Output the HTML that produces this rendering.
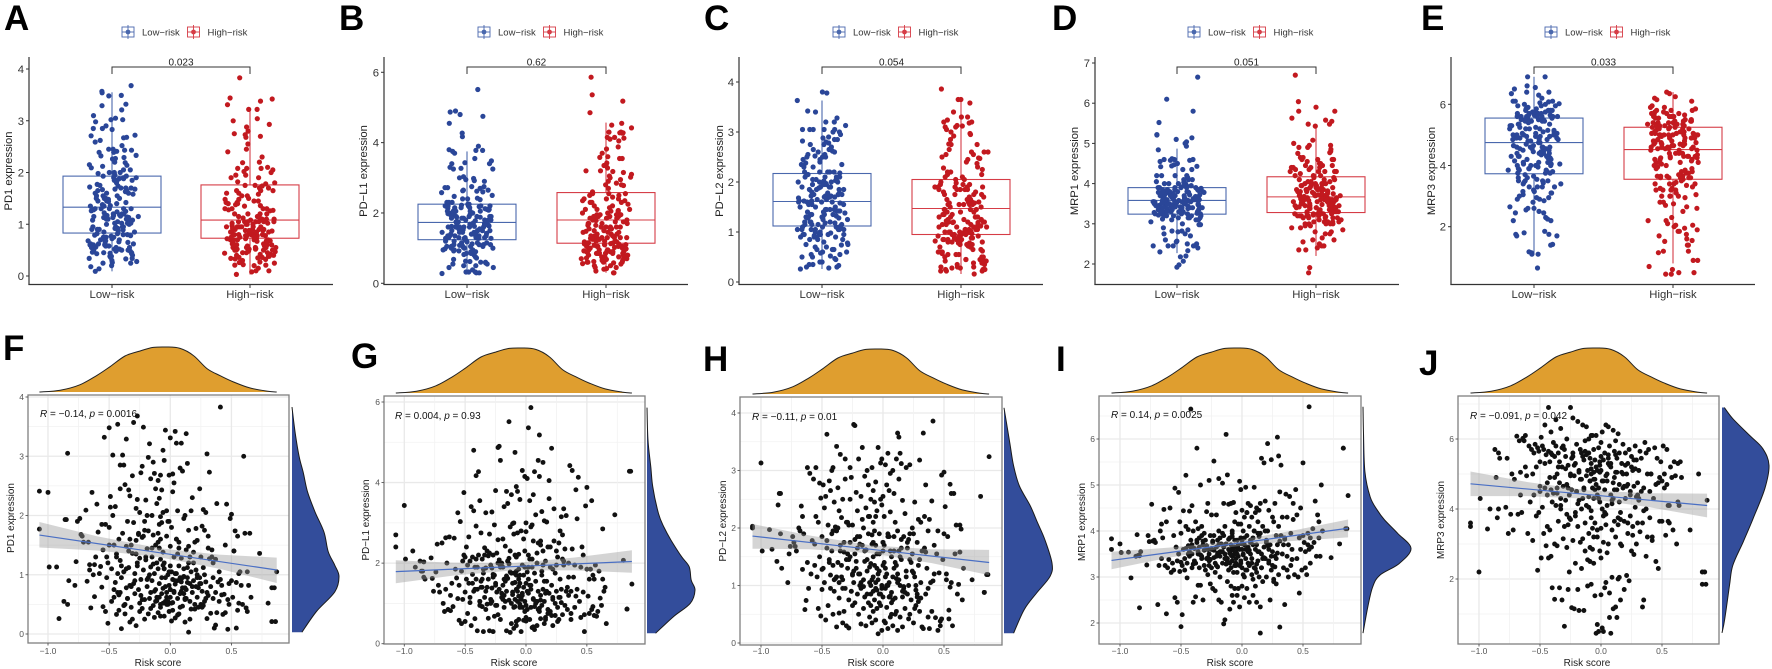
<!DOCTYPE html>
<html lang="en">
<head>
<meta charset="utf-8">
<title>Risk group expression and correlation panels</title>
<style>
html,body{margin:0;padding:0;background:#fff;}
svg{display:block;font-family:"Liberation Sans",sans-serif;}
</style>
</head>
<body>
<svg id="chart" xmlns="http://www.w3.org/2000/svg" width="1772" height="669" viewBox="0 0 1772 669"></svg>
<script>
// Risk score of each sample (shared by every panel)
const riskScore=[
-1.07,-1.07,-1.0,-.99,-.93,-.91,-.87,-.86,-.85,-.84,-.84,-.83,
-.78,-.77,-.76,-.74,-.73,-.72,-.71,-.69,-.68,-.67,-.66,-.66,
-.65,-.64,-.63,-.62,-.62,-.61,-.60,-.59,-.58,-.57,-.56,-.56,
-.55,-.55,-.54,-.53,-.53,-.52,-.52,-.51,-.51,-.50,-.50,-.49,
-.49,-.48,-.48,-.47,-.47,-.46,-.46,-.45,-.45,-.44,-.44,-.43,
-.43,-.43,-.42,-.42,-.41,-.41,-.41,-.40,-.40,-.39,-.39,-.38,
-.38,-.38,-.37,-.37,-.36,-.36,-.36,-.35,-.35,-.34,-.34,-.33,
-.33,-.33,-.32,-.32,-.31,-.31,-.31,-.30,-.30,-.29,-.29,-.28,
-.28,-.28,-.27,-.27,-.27,-.26,-.26,-.25,-.25,-.25,-.24,-.24,
-.23,-.23,-.23,-.22,-.22,-.21,-.21,-.21,-.20,-.20,-.19,-.19,
-.19,-.18,-.18,-.18,-.17,-.17,-.16,-.16,-.16,-.15,-.15,-.15,
-.14,-.14,-.14,-.13,-.13,-.13,-.12,-.12,-.12,-.11,-.11,-.11,
-.10,-.10,-.10,-.10,-.09,-.09,-.09,-.09,-.08,-.08,-.08,-.08,
-.08,-.08,-.07,-.07,-.07,-.07,-.06,-.06,-.06,-.06,-.06,-.06,
-.05,-.05,-.05,-.04,-.04,-.04,-.03,-.03,-.03,-.02,-.02,-.02,
-.01,-.01,-.01,0,0,0,.01,.01,.01,.02,.02,.02,
.03,.03,.03,.04,.04,.04,.05,.05,.05,.06,.06,.06,
.07,.07,.08,.08,.08,.09,.09,.10,.10,.10,.11,.11,
.11,.12,.12,.12,.13,.13,.13,.14,.14,.14,.15,.15,
.15,.16,.16,.17,.17,.18,.18,.19,.19,.20,.20,.21,
.21,.22,.22,.23,.23,.24,.24,.25,.25,.26,.26,.27,
.27,.28,.28,.29,.29,.30,.30,.31,.31,.32,.32,.33,
.33,.34,.35,.35,.36,.37,.37,.38,.38,.39,.40,.40,
.41,.42,.43,.44,.45,.45,.46,.47,.48,.48,.49,.50,
.50,.51,.52,.53,.54,.54,.55,.55,.56,.57,.58,.59,
.60,.61,.62,.63,.63,.64,.65,.66,.73,.80,.83,.85,
-.05,-.03,-.01,0,.02,.04,.06,.07,.09,.12,.16,.19,
.22,.26,.3,.34,.37,.42,.47,.52,.87,.86,.83,.56,
-.44,-.41,-.38,-.35,-.33,-.3,-.27,-.24,-.21,-.18,-.15,-.12,
-.46,-.4,-.37,-.34,-.29,-.26,-.23,-.2,-.17,-.13,-.1,-.08,
-.5,-.42,-.36,-.32,-.28,-.25,-.22,-.19,-.16,-.14,-.11,-.09,
-.04,-.02,0,.03,.05,.08,.1,.13,.16,.2,.24,.28,
-.03,-.01,.02,.04,.07,.09,.12,.15,.18,.22,.27,.31,
-.05,0,.01,.06,.11,.14,.17,.21,.25,.29,.35,.41];
const riskCutoff=-.055;

// Expression values, same order as riskScore
const pd1Values=[
1.77,2.41,2.39,1.13,1.13,.26,.55,1.93,1.93,3.05,.5,.9,
.82,1.22,1.9,1.95,1.68,1.65,1.55,2.09,.89,1.55,1.08,1.17,
.44,2.39,1.0,.63,1.17,1.3,2.19,1.72,1.02,1.14,1.85,.79,
1.42,.46,3.32,.38,1.85,1.3,.95,.18,1.2,3.48,1.8,2.14,
2.32,.55,1.1,2.0,3.02,.62,1.5,.87,2.15,.33,1.35,1.02,
3.54,.7,1.6,.4,2.85,1.24,2.45,.95,.09,3.02,1.7,.48,
2.85,1.05,.34,2.52,1.48,.78,3.29,1.9,.6,2.43,1.12,.2,
2.33,.82,1.5,.45,2.67,1.36,.25,3.57,1.88,.68,1.02,2.12,
1.58,.14,2.27,1.15,3.68,.75,1.68,.38,2.05,1.28,.92,2.72,
2.83,.43,1.63,1.08,3.49,.58,1.9,.25,2.26,1.3,.8,2.0,
1.44,.34,2.98,1.74,.6,3.21,1.13,.43,2.62,2.0,.9,1.3,
2.9,.48,1.67,1.02,2.71,.28,1.5,.75,2.45,1.2,.56,2.2,
1.7,.36,2.59,1.1,.62,2.29,1.45,.85,1.98,.5,1.26,2.68,
1.6,.3,2.43,.95,1.88,.68,1.16,.52,2.05,1.38,.77,3.1,
1.2,.3,2.93,.95,.55,3.44,1.65,.7,2.08,1.0,.5,1.9,
.82,.38,2.68,1.48,.62,3.31,1.05,.22,1.8,.92,.53,2.4,
1.3,.72,2.55,3.42,.84,.27,1.6,1.02,3.22,.6,2.08,.9,
.34,1.15,2.8,.68,.95,3.22,1.28,.47,2.75,.78,1.95,1.1,
.97,.2,2.0,.78,1.42,3.38,.6,1.12,2.88,.87,.03,1.75,
1.48,.85,.55,2.08,1.05,.7,2.3,1.38,.9,1.55,.42,.8,
1.08,.62,1.58,.45,.78,2.45,.95,1.3,.5,1.82,.72,1.12,
2.1,.55,1.0,2.05,.88,.26,3.04,.65,1.45,2.73,1.27,.8,
.35,1.42,.6,.95,.1,1.26,.7,2.2,.36,.88,1.05,.55,
3.83,.82,.33,.67,1.5,.36,2.19,.08,.85,.5,1.95,.9,
2.02,.62,1.4,1.74,.1,.87,.4,1.65,1.02,1.05,.82,.5,
3.0,1.7,.44,.38,1.05,.82,1.7,.62,1.36,.52,.21,.78,
1.1,.5,1.9,.75,2.7,1.02,.32,1.55,.88,.6,.25,1.2,
.95,.45,.7,1.3,.15,.66,.58,1.4,1.05,.21,.78,.52,
1.3,.7,1.05,.6,1.6,.85,1.2,.65,1.75,.95,1.45,.55,
.75,1.15,.5,1.4,.9,1.7,.58,1.25,1.0,.72,1.55,.45,
1.5,.66,1.1,.8,1.35,.52,1.65,.92,.7,1.18,.62,1.85,
.8,.55,1.15,.7,1.6,.45,.95,.75,1.3,.5,.85,1.75,
.62,1.05,.4,.9,1.45,.72,.58,1.2,.8,1.0,.48,1.65,
1.1,.75,.52,1.35,.68,.95,.42,1.78,.85,.6,1.2,.92];
const pdl1Values=[
2.7,2.4,3.43,2.1,2.3,1.9,2.05,1.8,1.8,1.65,2.03,1.6,
2.13,1.62,1.3,1.78,2.47,1.45,1.28,2.5,1.0,.8,2.63,1.35,
2.0,.85,2.65,.82,1.2,1.5,.92,2.62,1.85,1.63,3.25,1.12,
1.45,.58,3.03,.5,1.8,2.05,1.1,3.75,2.2,1.28,.55,1.6,
2.4,1.95,.75,2.65,1.5,1.02,2.05,.45,3.4,2.15,1.72,4.8,
1.3,3.3,.62,1.9,4.17,1.6,2.92,1.35,.32,4.27,2.2,1.05,
3.55,.95,2.75,1.55,.92,2.1,1.4,.3,1.75,2.38,1.15,3.25,
1.88,.85,2.3,1.4,.63,2.18,1.6,.32,2.72,1.1,1.95,1.38,
3.27,1.05,2.2,.3,1.72,2.95,.68,1.5,3.8,.95,2.25,1.28,
4.87,.72,2.58,1.35,4.9,1.9,.6,4.55,1.15,2.0,2.6,1.45,
1.9,3.4,.9,1.6,2.42,1.05,3.78,1.3,.32,2.05,3.48,1.62,
5.51,1.08,2.12,.28,1.78,2.9,1.0,3.7,.5,1.5,2.98,1.22,
1.75,3.0,.38,2.72,1.1,.92,2.2,4.75,1.35,3.9,.55,1.7,
2.15,.45,1.3,2.75,1.05,3.78,1.6,.6,2.22,1.18,1.85,1.42,
3.58,.9,1.7,2.8,1.12,.3,1.95,4.3,1.25,.58,2.6,1.4,
4.15,1.05,1.9,3.0,.56,2.78,1.3,4.1,.85,5.36,2.2,1.6,
3.55,.6,2.1,5.86,.9,1.45,2.95,.4,1.9,3.7,1.1,2.55,
4.27,.35,1.55,3.2,1.0,2.0,.45,4.55,1.3,2.5,5.18,.8,
4.15,1.2,2.55,.62,3.28,1.7,.95,1.35,4.5,2.3,.5,3.05,
1.05,2.05,.65,3.02,1.55,.85,2.4,4.05,1.25,.8,1.9,1.45,
4.85,1.1,.45,2.55,3.35,1.75,.7,1.95,1.3,2.15,.9,2.5,
.6,1.15,2.8,3.15,1.35,2.7,.72,1.95,3.35,.95,2.35,1.3,
3.18,.85,1.2,2.0,4.42,.6,1.3,2.35,4.3,1.65,.9,1.95,
3.82,1.35,4.13,1.05,1.9,.65,2.4,1.28,.3,.72,3.42,1.85,
3.88,1.18,.75,1.85,3.55,.85,.92,1.7,1.6,1.95,.68,.8,
1.8,1.13,.95,2.85,1.6,1.3,1.4,.5,3.2,2.07,.86,4.28,
1.5,.9,2.3,.65,1.25,2.9,.42,1.75,1.05,2.45,.6,3.6,
1.15,.55,2.1,1.4,.75,3.1,2.2,1.6,1.48,4.28,.86,.7,
1.5,2.1,1.05,1.85,1.3,2.25,1.65,.95,1.95,1.2,2.05,1.75,
1.15,1.9,1.4,2.2,1.0,1.7,2.0,1.25,1.55,2.3,.9,1.8,
2.15,1.35,1.6,.98,1.88,1.45,2.08,1.1,1.68,1.98,1.28,1.52,
1.1,1.7,.95,1.45,2.1,1.05,.85,1.8,1.25,2.4,1.0,1.6,
1.2,.8,1.9,1.35,.92,2.25,1.08,1.55,.75,1.85,1.15,2.05,
.98,1.5,1.78,1.12,.88,1.95,1.3,.7,2.3,1.02,1.65,1.18];
const pdl2Values=[
2.03,2.0,3.13,1.6,1.97,1.63,1.42,2.4,2.6,2.6,1.9,1.3,
1.05,1.55,1.68,1.85,1.75,1.68,1.6,2.0,1.95,2.38,1.28,2.2,
1.9,.58,.74,3.05,1.4,.95,2.95,1.2,1.78,2.85,1.35,1.72,
3.05,2.2,1.15,.6,2.1,2.78,1.5,.47,2.52,1.85,.93,2.75,
1.3,2.35,1.05,2.55,.4,1.78,3.63,.65,2.05,1.45,2.82,1.18,
.95,2.65,1.6,3.0,.5,1.35,3.05,.9,2.45,2.02,1.12,3.42,
.28,1.95,2.7,1.4,.78,2.3,.52,1.6,3.28,1.15,2.18,.35,
1.1,2.5,.55,1.75,3.2,.95,2.85,.3,1.45,2.1,1.3,.75,
1.45,.26,3.05,2.5,1.75,.9,2.88,1.2,.65,2.05,3.8,1.05,
1.55,3.78,.7,2.62,1.3,.85,2.3,1.65,.5,3.2,1.0,1.85,
1.2,.95,2.55,.33,3.4,1.7,.6,2.0,1.1,2.9,1.42,.8,
1.62,.3,2.35,3.0,.85,1.25,2.75,.7,1.9,.45,1.05,2.2,
1.38,.85,2.5,.65,1.72,3.05,1.1,.35,2.1,.9,1.5,2.65,
1.15,.55,1.95,2.45,.75,1.35,2.2,.4,1.7,1.05,2.8,.95,
1.55,.6,2.3,1.1,.16,3.4,1.9,.85,1.25,2.5,.65,3.13,
1.0,.22,3.2,1.75,.8,2.55,1.4,.38,2.2,.95,3.1,1.3,
2.75,.62,1.2,3.3,1.85,.25,2.65,1.05,.8,1.6,2.28,.45,
1.5,.88,3.0,.3,1.15,2.6,1.85,.5,2.1,.78,1.35,3.2,
.55,3.65,1.2,.22,3.58,2.85,1.6,3.3,.45,1.0,3.12,1.8,
1.45,.28,2.48,.95,1.85,.6,2.25,3.05,1.15,.85,1.65,.42,
1.0,.5,3.1,1.4,.75,2.0,1.55,1.9,.35,1.15,2.45,.92,
.65,1.75,.85,2.15,1.35,3.18,.55,1.05,2.1,1.6,.28,3.65,
.25,1.65,.85,2.75,1.3,.45,1.95,.25,2.15,1.05,.55,2.47,
3.86,1.2,.44,1.55,.22,1.95,1.22,.38,2.92,.42,1.45,2.97,
1.9,2.37,1.2,1.85,.42,.57,.97,2.76,1.05,.3,2.6,1.55,
2.05,.85,1.02,2.05,1.58,1.98,.75,1.3,1.1,2.55,.88,1.19,
1.3,.7,2.4,1.75,.35,1.0,2.95,.5,1.6,1.95,.8,1.25,
1.9,.6,1.45,2.2,.95,1.7,.3,1.1,3.24,1.19,.88,2.6,
1.4,1.95,1.15,1.7,.95,2.1,1.5,1.25,1.85,1.05,1.6,2.2,
1.65,1.1,2.0,1.35,1.55,.9,1.8,1.2,2.15,1.45,1.0,1.75,
1.28,1.9,1.05,1.58,2.05,1.18,1.42,1.72,.98,1.62,1.32,1.88,
1.2,.85,1.6,1.0,1.85,.75,1.4,1.1,.9,1.75,1.25,.8,
1.55,.95,1.15,1.9,.7,1.3,1.05,1.65,.88,1.45,1.0,.78,
.92,1.35,1.7,.82,1.12,1.5,.98,1.8,1.22,.72,1.58,1.08];
const mrp1Values=[
3.6,3.83,3.72,3.53,3.54,2.98,3.45,3.92,3.47,2.33,3.46,3.55,
3.26,3.9,3.77,4.58,3.78,3.8,3.75,2.4,3.25,4.0,3.4,4.15,
3.85,4.47,3.25,4.2,2.2,3.2,3.38,4.5,3.1,3.3,3.15,3.9,
4.93,2.55,3.65,2.45,3.35,4.84,3.5,3.12,4.2,1.92,3.95,3.25,
2.18,3.6,4.44,3.4,3.15,5.21,4.1,3.3,2.98,3.68,4.03,3.55,
4.43,3.45,3.8,6.65,4.55,3.5,3.2,2.45,4.0,3.62,3.35,2.57,
4.2,3.3,3.75,5.8,3.55,2.82,4.05,3.2,3.65,5.0,2.82,3.9,
3.45,4.1,2.5,3.7,3.25,3.95,3.58,3.15,3.8,3.4,4.42,3.6,
3.05,4.6,3.5,5.1,3.35,3.9,2.85,3.62,4.35,3.2,3.78,2.75,
3.42,5.52,3.9,3.1,2.7,3.65,4.35,3.25,3.8,3.52,2.5,4.0,
5.14,3.45,3.0,3.85,2.45,3.55,5.04,3.3,3.95,1.98,3.65,4.6,
2.07,3.5,4.1,6.1,3.28,3.72,5.22,3.4,2.9,3.6,4.58,3.15,
3.85,3.3,2.3,3.55,4.6,3.2,3.7,2.8,4.0,3.45,2.6,3.62,
3.35,3.95,2.45,3.58,3.1,4.62,3.5,2.75,3.8,3.25,4.2,3.65,
3.55,3.25,4.4,2.6,3.8,3.1,4.15,3.45,3.7,2.35,3.6,5.08,
3.3,4.9,3.85,3.2,4.45,2.8,3.5,4.0,3.05,3.7,4.3,2.55,
3.6,4.95,3.15,4.4,2.75,3.9,3.3,4.6,3.55,4.1,2.45,3.25,
3.75,4.55,3.05,4.3,3.4,2.95,3.85,4.95,3.2,4.0,3.6,2.8,
4.4,3.1,3.7,2.45,4.2,3.35,3.95,4.45,3.0,3.55,2.35,4.6,
1.78,5.58,3.2,4.1,2.9,3.65,5.48,3.4,4.65,3.0,3.8,4.0,
5.9,3.3,4.45,2.5,3.7,5.55,3.15,4.3,3.55,2.9,4.2,3.45,
4.6,3.4,2.85,6.04,3.7,5.63,3.05,1.91,4.85,3.9,5.43,3.5,
4.3,3.2,3.85,2.4,4.8,3.45,4.3,3.0,3.7,4.75,3.25,3.95,
3.6,4.6,3.05,4.9,3.4,4.35,3.0,3.85,4.5,3.6,3.15,3.9,
5.48,3.75,3.2,3.05,3.95,3.7,6.7,3.6,3.3,3.65,4.05,3.75,
4.65,3.45,4.35,3.85,4.2,3.45,5.0,4.0,3.42,3.72,5.8,4.05,
3.4,2.75,4.15,3.6,3.0,4.4,3.25,3.8,2.6,4.5,3.5,4.0,
3.35,2.95,4.1,3.7,3.15,4.25,2.65,3.55,4.77,4.05,5.8,3.85,
3.5,3.7,3.3,3.85,3.4,3.6,3.25,3.75,3.45,3.55,3.9,3.35,
3.62,3.28,3.8,3.48,3.68,3.38,3.58,3.22,3.72,3.42,3.52,3.88,
3.32,3.65,3.5,3.78,3.42,3.6,3.3,3.7,3.55,3.4,3.82,3.48,
3.5,3.25,3.8,3.4,3.65,3.3,4.0,3.55,3.2,3.75,3.45,3.9,
3.62,3.35,3.85,3.15,3.5,3.7,3.28,3.95,3.42,3.6,3.22,3.78,
3.3,3.72,3.48,3.58,3.18,3.88,3.4,3.68,3.25,3.52,3.82,3.38];
const mrp3Values=[
3.5,3.6,2.2,4.3,3.43,4.0,5.7,4.9,3.75,4.0,5.6,5.45,
4.05,5.45,3.3,3.85,5.0,3.4,4.85,6.08,3.85,5.95,5.05,4.4,
3.9,6.02,5.95,5.2,6.1,4.95,3.3,5.8,4.2,5.7,5.0,3.1,
5.6,4.4,5.85,3.8,5.2,5.75,2.25,5.65,3.9,4.5,5.35,6.05,
2.6,5.8,4.05,3.3,5.7,4.6,6.4,2.95,5.55,3.5,4.75,2.6,
5.65,6.9,3.4,4.9,6.2,2.65,4.55,5.55,1.75,5.9,4.45,3.0,
1.42,5.5,4.1,6.55,2.95,5.0,4.6,5.6,3.65,1.75,5.35,4.3,
6.3,4.0,1.4,5.2,3.15,4.65,5.8,3.5,.65,4.25,5.5,2.9,
4.7,6.0,3.55,1.7,5.25,4.4,2.2,6.9,3.7,5.0,1.18,4.55,
5.6,3.1,6.6,4.95,1.15,3.8,5.3,2.45,4.5,5.85,1.7,3.5,
6.5,4.25,1.1,5.1,3.05,5.7,4.85,2.3,4.0,5.5,6.4,3.15,
1.1,5.4,4.6,2.8,5.95,3.6,4.95,6.35,4.1,2.55,5.6,1.8,
4.35,5.6,3.3,6.0,2.5,4.8,5.45,2.9,1.85,5.15,3.95,6.1,
3.75,5.3,2.85,4.6,6.1,3.45,5.05,2.45,4.3,5.7,3.2,4.85,
5.4,3.6,1.52,4.7,.45,6.1,3.2,5.1,.7,4.3,5.75,.5,
2.8,5.05,4.2,1.55,5.9,3.45,.6,4.8,6.2,.5,3.05,5.4,
4.55,1.75,5.6,3.55,6.4,1.9,5.0,2.75,4.1,5.3,3.0,6.35,
.9,5.8,4.4,.45,5.2,3.4,2.05,4.75,6.25,1.15,5.65,3.65,
4.9,1.2,3.2,5.95,.9,4.55,5.45,2.0,3.55,6.15,2.05,4.2,
5.6,3.9,1.4,5.05,2.95,4.6,5.85,1.7,3.65,5.25,4.3,2.1,
5.0,3.3,4.7,1.95,5.7,3.8,4.4,5.5,2.8,3.25,5.1,4.65,
2.7,5.8,4.05,3.0,5.4,4.75,3.6,5.1,4.3,3.35,5.65,4.5,
5.45,3.6,4.6,1.4,5.9,2.65,4.0,5.0,3.2,5.7,4.5,3.75,
5.0,3.2,4.3,5.75,2.5,4.7,5.45,2.3,4.9,3.65,5.35,4.8,
3.65,5.8,4.6,3.25,4.7,5.7,4.1,3.65,4.1,5.2,4.9,3.4,
5.35,4.95,3.0,4.2,5.3,4.1,5.35,4.9,3.4,5.0,1.85,2.2,
4.55,3.4,5.25,2.6,4.8,3.85,5.55,1.6,4.25,5.05,3.0,4.65,
5.3,3.5,4.4,1.2,5.6,3.1,4.75,5.0,4.25,1.85,2.2,3.6,
4.4,5.6,4.9,5.2,4.1,5.7,4.6,5.45,3.9,5.05,4.3,5.55,
5.3,4.2,5.8,4.75,5.15,3.75,5.5,4.5,4.85,5.65,4.05,5.0,
4.65,5.35,4.45,5.75,3.85,4.95,5.25,4.15,5.6,4.55,5.1,4.8,
5.2,4.6,5.5,3.9,4.8,5.3,4.3,5.05,3.7,5.6,4.5,5.15,
4.4,5.35,3.8,4.95,5.25,4.15,5.55,4.7,5.0,3.6,5.4,4.25,
4.85,5.1,4.0,5.45,4.55,3.75,5.3,4.65,5.2,4.35,3.95,5.0];

// Box statistics: [whisker low, q1, median, q3, whisker high]
const pd1LowBox=[.09,.83,1.33,1.93,3.55];
const pd1HighBox=[.03,.73,1.08,1.76,3.22];
const pdl1LowBox=[.26,1.24,1.73,2.25,3.75];
const pdl1HighBox=[.3,1.14,1.80,2.58,4.57];
const pdl2LowBox=[.26,1.12,1.61,2.17,3.63];
const pdl2HighBox=[.16,.95,1.47,2.05,3.67];
const mrp1LowBox=[2.27,3.24,3.58,3.9,4.87];
const mrp1HighBox=[2.2,3.28,3.67,4.17,5.44];
const mrp3LowBox=[1.08,3.73,4.75,5.55,6.9];
const mrp3HighBox=[.8,3.55,4.52,5.25,6.4];

// Wilcoxon p labels
const pLabels=['0.023','0.62','0.054','0.051','0.033'];
const groupLabels=['Low−risk','High−risk'];
const geneTitles=['PD1 expression','PD−L1 expression','PD−L2 expression','MRP1 expression','MRP3 expression'];
const geneSlugs=['pd1','pd-l1','pd-l2','mrp1','mrp3'];
const boxTicks=[[0,1,2,3,4],[0,2,4,6],[0,1,2,3,4],[2,3,4,5,6,7],[2,4,6]];
const scatterYTicks=[[0,1,2,3,4],[0,2,4,6],[0,1,2,3,4],[2,3,4,5,6],[2,4,6]];
const scatterXTicks=[-1,-.5,0,.5];
const scatterXTickLabels=['−1.0','−0.5','0.0','0.5'];

// Regression fit and confidence band
const fitEnds=[-1.07,.87];
const pd1Fit=[1.67,1.08];
const pdl1Fit=[1.79,2.04];
const pdl2Fit=[1.86,1.40];
const mrp1Fit=[3.36,4.06];
const mrp3Fit=[4.72,4.10];
const bandX=[-1.07,-.6,-.1,.4,.87];
const pd1BandLow=[1.46,1.41,1.30,1.10,.86];
const pd1BandHigh=[1.89,1.65,1.45,1.34,1.29];
const pdl1BandLow=[1.5,1.69,1.82,1.82,1.76];
const pdl1BandHigh=[2.07,2.01,2.0,2.14,2.32];
const pdl2BandLow=[1.64,1.63,1.56,1.39,1.18];
const pdl2BandHigh=[2.07,1.87,1.70,1.63,1.62];
const mrp1BandLow=[3.17,3.42,3.65,3.78,3.86];
const mrp1BandHigh=[3.55,3.64,3.77,4.0,4.25];
const mrp3BandLow=[4.37,4.37,4.29,4.05,3.76];
const mrp3BandHigh=[5.07,4.77,4.53,4.45,4.44];
const corrR=['−0.14','0.004','−0.11','0.14','−0.091'];
const corrP=['0.0016','0.93','0.01','0.0025','0.042'];

// Marginal densities (relative height)
const riskDensityX=[-1.07,-.9,-.74,-.6,-.49,-.37,-.25,-.14,-.03,.08,.19,.3,.41,.52,.65,.79,.87];
const riskDensityH=[0,.04,.16,.37,.57,.80,.91,.99,1,.97,.81,.52,.36,.22,.09,.02,0];
const pd1DensV=[.03,.38,.71,.97,1.16,1.39,1.72,2.06,2.4,2.72,3,3.38,3.83];
const pd1DensH=[.21,.52,.91,1,.91,.77,.68,.49,.33,.24,.15,.07,0];
const pdl1DensV=[.26,.67,1,1.33,1.58,1.91,2.16,2.57,2.9,3.23,3.89,4.39,5.05,5.86];
const pdl1DensH=[.18,.55,.9,1,.92,.88,.72,.5,.35,.24,.12,.08,.02,0];
const pdl2DensV=[.17,.58,.87,1.16,1.39,1.8,2.09,2.38,2.73,3.08,3.48,4.09];
const pdl2DensH=[.2,.42,.68,.96,1,.85,.7,.55,.32,.2,.12,0];
const mrp1DensV=[1.78,2.35,2.78,3.04,3.29,3.62,3.95,4.24,4.45,4.74,5.29,6.12,6.7];
const mrp1DensH=[0,.1,.2,.35,.75,1,.72,.45,.3,.15,.04,.01,0];
const mrp3DensV=[.46,.87,1.82,2.39,3.06,3.72,4.58,5.25,5.72,6.1,6.58,6.9];
const mrp3DensH=[0,.06,.16,.23,.45,.66,.91,1,.87,.59,.23,.05];

// Layout of the panels (not data)
const boxPanels=[
 {letter:'A',lx:4,ly:30,axis:29,right:333,c:[112,250],v:[0,276,4,69],legend:128,yl:8},
 {letter:'B',lx:339,ly:30,axis:384,right:688,c:[467,606],v:[0,283.3,6,72.3],legend:484,yl:363},
 {letter:'C',lx:704,ly:30,axis:739,right:1043,c:[822,961],v:[0,282,4,82],legend:839,yl:719},
 {letter:'D',lx:1052,ly:30,axis:1095,right:1399,c:[1177,1316],v:[2,264,7,63],legend:1194,yl:1074},
 {letter:'E',lx:1421,ly:30,axis:1451,right:1755,c:[1534,1673],v:[2,226.7,6,104.3],legend:1551,yl:1431}
];
const scatterPanels=[
 {letter:'F',lx:3,ly:360,l:28,r:289,t:395,b:643,x0:48,x1:170.3,v:[0,634,4,397],rb:292,rp:339,ty:392,tp:347,ax:40,ay:417,yl:11,yc:518,xc:158},
 {letter:'G',lx:351,ly:368,l:384,r:645,t:396,b:644,x0:404.3,x1:526,v:[0,643.7,6,402],rb:647,rp:695,ty:393,tp:348,ax:395,ay:419,yl:366,yc:520,xc:514},
 {letter:'H',lx:703,ly:371,l:740,r:1002,t:397,b:645,x0:761,x1:883,v:[0,643,4,413],rb:1004,rp:1052,ty:394,tp:349,ax:752,ay:420,yl:723,yc:521,xc:871},
 {letter:'I',lx:1056,ly:371,l:1099,r:1361,t:396,b:644,x0:1120,x1:1242,v:[2,623,6,439],rb:1363,rp:1411,ty:393,tp:348,ax:1111,ay:418,yl:1082,yc:522,xc:1230},
 {letter:'J',lx:1419,ly:375,l:1458,r:1719,t:396,b:644,x0:1479,x1:1601,v:[2,579,6,439],rb:1722,rp:1769,ty:393,tp:348,ax:1470,ay:419,yl:1441,yc:520,xc:1587}
];
const jitterCoarse=[-.82,.41,-.13,.93,-.56,.22,-.97,.68,-.31,.05,.87,-.71,.36,-.44,.58,-.09,1,-.62,.17,-.88,.49,-.25,.76,-.38,.11,-.79,.95,-.5,.28,-.16,.63,-.92,.33,.82,-.03,-.67,.54];
const jitterFine=[.7,-.4,.15,-.9,.5,-.1,.95,-.65,.3,-.8,.6,-.25,.85,-.5,.05,-.95,.4,-.7,.2,-.3,.75,-.15,1];

const geneValues=[pd1Values,pdl1Values,pdl2Values,mrp1Values,mrp3Values];
const lowBoxes=[pd1LowBox,pdl1LowBox,pdl2LowBox,mrp1LowBox,mrp3LowBox];
const highBoxes=[pd1HighBox,pdl1HighBox,pdl2HighBox,mrp1HighBox,mrp3HighBox];
const fits=[pd1Fit,pdl1Fit,pdl2Fit,mrp1Fit,mrp3Fit];
const bandLows=[pd1BandLow,pdl1BandLow,pdl2BandLow,mrp1BandLow,mrp3BandLow];
const bandHighs=[pd1BandHigh,pdl1BandHigh,pdl2BandHigh,mrp1BandHigh,mrp3BandHigh];
const densV=[pd1DensV,pdl1DensV,pdl2DensV,mrp1DensV,mrp3DensV];
const densH=[pd1DensH,pdl1DensH,pdl2DensH,mrp1DensH,mrp3DensH];

const NS='http://www.w3.org/2000/svg';
const root=document.getElementById('chart');
function mk(tag,attrs,parent,txt){
  const e=document.createElementNS(NS,tag);
  for(const k in attrs)e.setAttribute(k,attrs[k]);
  if(txt!==undefined)e.textContent=txt;
  parent.appendChild(e);
  return e;
}
function linScale(a){return v=>a[1]+(v-a[0])*(a[3]-a[1])/(a[2]-a[0]);}
function smooth(p){
  let d='M'+p[0][0].toFixed(1)+' '+p[0][1].toFixed(1);
  for(let i=0;i<p.length-1;i++){
    const a=p[Math.max(i-1,0)],b=p[i],c=p[i+1],e=p[Math.min(i+2,p.length-1)];
    const c1=[b[0]+(c[0]-a[0])/6,b[1]+(c[1]-a[1])/6],c2=[c[0]-(e[0]-b[0])/6,c[1]-(e[1]-b[1])/6];
    d+='C'+c1[0].toFixed(1)+' '+c1[1].toFixed(1)+' '+c2[0].toFixed(1)+' '+c2[1].toFixed(1)+' '+c[0].toFixed(1)+' '+c[1].toFixed(1);
  }
  return d;
}
const BLUE='#2a4698',RED='#c2191f',BLUEL='#4a68ad',REDL='#d63c46';

function drawBoxGroup(g,y,cx,stats,stroke,name){
  const hw=49;
  const w=mk('line',{x1:cx,x2:cx,y1:y(stats[0]),y2:y(stats[1]),stroke:stroke,'stroke-width':1.1},g);
  
  
  const u=mk('line',{x1:cx,x2:cx,y1:y(stats[3]),y2:y(stats[4]),stroke:stroke,'stroke-width':1.1},g);
  
  
  const r=mk('rect',{x:cx-hw,width:2*hw,y:y(stats[3]),height:y(stats[1])-y(stats[3]),fill:'none',stroke:stroke,'stroke-width':1.1},g);
  
  
  const m=mk('line',{x1:cx-hw,x2:cx+hw,y1:y(stats[2]),y2:y(stats[2]),stroke:stroke,'stroke-width':1.1},g);
  
  
}
function drawLegendKey(g,x,color,name){
  const k=mk('g',{},g);
  
  
  mk('rect',{x:x-6,y:27,width:12,height:10,fill:'none',stroke:color,'stroke-width':.9},k);
  mk('line',{x1:x,x2:x,y1:25,y2:39,stroke:color,'stroke-width':.9},k);
  mk('line',{x1:x-6,x2:x+6,y1:32,y2:32,stroke:color,'stroke-width':.9},k);
  mk('circle',{cx:x,cy:32,r:2.4,fill:color},k);
}

boxPanels.forEach((p,idx)=>{
  const g=mk('g',{},root);
  
  
  const y=linScale(p.v);
  const letter=mk('text',{x:p.lx,y:p.ly,'font-size':35,'font-weight':'bold',fill:'#000'},g,p.letter);
  
  
  // legend
  drawLegendKey(g,p.legend,BLUEL,'low-risk');
  drawLegendKey(g,p.legend+65.5,REDL,'high-risk');
  const lt=mk('text',{x:p.legend+14,y:35.3,'font-size':9.5,fill:'#333'},g,groupLabels[0]);
  
  
  const ht=mk('text',{x:p.legend+79.5,y:35.3,'font-size':9.5,fill:'#333'},g,groupLabels[1]);
  
  
  // boxes
  drawBoxGroup(g,y,p.c[0],lowBoxes[idx],BLUEL,'low-risk');
  drawBoxGroup(g,y,p.c[1],highBoxes[idx],REDL,'high-risk');
  // jittered points
  const vals=geneValues[idx];
  const pts=mk('g',{},g);
  
  
  const n=Math.min(vals.length,riskScore.length);
  for(let i=0;i<n;i++){
    const low=riskScore[i]<riskCutoff;
    const off=.82*jitterCoarse[(i+idx*7)%37]+.18*jitterFine[(i*3+idx)%23];
    const c=mk('circle',{cx:(p.c[low?0:1]+27*off).toFixed(1),cy:y(vals[i]).toFixed(1),r:2.6,fill:low?BLUE:RED},pts);
    
    
  }
  // axes
  const ya=mk('line',{x1:p.axis,x2:p.axis,y1:57,y2:285,stroke:'#333','stroke-width':1.2},g);
  
  
  const xa=mk('line',{x1:p.axis-.6,x2:p.right,y1:284.5,y2:284.5,stroke:'#333','stroke-width':1.2},g);
  
  
  boxTicks[idx].forEach(v=>{
    const t=mk('line',{x1:p.axis-3,x2:p.axis,y1:y(v),y2:y(v),stroke:'#333','stroke-width':1},g);
    
    
    const l=mk('text',{x:p.axis-5,y:y(v)+4,'font-size':11.3,'text-anchor':'end',fill:'#333'},g,String(v));
    
    
  });
  p.c.forEach((cx,j)=>{
    const t=mk('line',{x1:cx,x2:cx,y1:285,y2:288,stroke:'#333','stroke-width':1},g);
    
    
    const l=mk('text',{x:cx,y:298,'font-size':11.3,'text-anchor':'middle',fill:'#333'},g,groupLabels[j]);
    
    
  });
  const yt=mk('text',{x:p.yl+4,y:171,'font-size':11.2,'text-anchor':'middle',fill:'#222',transform:'rotate(-90 '+(p.yl+4)+' 171)'},g,geneTitles[idx]);
  
  
  // bracket
  const br=mk('path',{d:'M'+p.c[0]+' 74V67H'+p.c[1]+'V74',fill:'none',stroke:'#333','stroke-width':1},g);
  
  
  const pv=mk('text',{x:(p.c[0]+p.c[1])/2,y:65.5,'font-size':10,'text-anchor':'middle',fill:'#222'},g,pLabels[idx]);
  
  
});

scatterPanels.forEach((p,idx)=>{
  const g=mk('g',{},root);
  
  
  const y=linScale(p.v);
  const x=v=>p.x1+v*(p.x1-p.x0);
  const letter=mk('text',{x:p.lx,y:p.ly,'font-size':35,'font-weight':'bold',fill:'#000'},g,p.letter);
  
  
  // top density
  const top=riskDensityX.map((v,i)=>[x(v),p.ty-riskDensityH[i]*(p.ty-p.tp)]);
  const topPath=smooth(top);
  const tf=mk('path',{d:topPath+'L'+x(riskDensityX[riskDensityX.length-1])+' '+p.ty+'L'+x(riskDensityX[0])+' '+p.ty+'Z',fill:'#df9e2f'},g);
  
  
  const tl=mk('path',{d:topPath,fill:'none',stroke:'#222','stroke-width':1},g);
  
  
  // right density
  const dv=densV[idx],dh=densH[idx];
  const side=dv.map((v,i)=>[p.rb+dh[i]*(p.rp-p.rb),y(v)]);
  const sidePath=smooth(side);
  const sf=mk('path',{d:sidePath+'L'+p.rb+' '+y(dv[dv.length-1])+'L'+p.rb+' '+y(dv[0])+'Z',fill:'#334d9b'},g);
  
  
  const sl=mk('path',{d:sidePath,fill:'none',stroke:'#1a1a1a','stroke-width':1},g);
  
  
  // grid
  const ticksY=scatterYTicks[idx];
  const stepY=ticksY[1]-ticksY[0];
  const grid=mk('g',{},g);
  
  
  for(let v=ticksY[0]-stepY/2;y(v)>p.t;v+=stepY/2){
    if(y(v)>=p.b)continue;
    const major=ticksY.includes(v);
    mk('line',{x1:p.l,x2:p.r,y1:y(v),y2:y(v),stroke:major?'#e9e9e9':'#f2f2f2','stroke-width':major?1.3:.8},grid);
  }
  scatterXTicks.forEach(v=>{
    mk('line',{x1:x(v),x2:x(v),y1:p.t,y2:p.b,stroke:'#e9e9e9','stroke-width':1.3},grid);
    mk('line',{x1:x(v+.25),x2:x(v+.25),y1:p.t,y2:p.b,stroke:'#f2f2f2','stroke-width':.8},grid);
  });
  // points
  const vals=geneValues[idx];
  const pts=mk('g',{},g);
  
  
  const n=Math.min(vals.length,riskScore.length);
  for(let i=0;i<n;i++){
    const c=mk('circle',{cx:x(riskScore[i]).toFixed(1),cy:y(vals[i]).toFixed(1),r:2.45,fill:'#111'},pts);
    
    
  }
  // ribbon + fit
  const lo=bandLows[idx],hi=bandHighs[idx];
  let d='M'+bandX.map((v,i)=>x(v).toFixed(1)+' '+y(hi[i]).toFixed(1)).join('L');
  d+='L'+bandX.map((v,i)=>x(v).toFixed(1)+' '+y(lo[i]).toFixed(1)).reverse().join('L')+'Z';
  const rb=mk('path',{d:d,fill:'#999','fill-opacity':.42},g);
  
  
  const ft=mk('line',{x1:x(fitEnds[0]),x2:x(fitEnds[1]),y1:y(fits[idx][0]),y2:y(fits[idx][1]),stroke:'#4a6fc4','stroke-width':1.2},g);
  
  
  // annotation
  const an=mk('text',{x:p.ax,y:p.ay,'font-size':10,fill:'#111'},g);
  
  
  mk('tspan',{'font-style':'italic'},an,'R');
  mk('tspan',{},an,' = '+corrR[idx]+', ');
  mk('tspan',{'font-style':'italic'},an,'p');
  mk('tspan',{},an,' = '+corrP[idx]);
  // border
  const bd=mk('rect',{x:p.l,y:p.t,width:p.r-p.l,height:p.b-p.t,fill:'none',stroke:'#7f7f7f','stroke-width':1.3},g);
  
  
  // ticks
  ticksY.forEach(v=>{
    const t=mk('line',{x1:p.l-2.5,x2:p.l,y1:y(v),y2:y(v),stroke:'#555','stroke-width':.9},g);
    
    
    const l=mk('text',{x:p.l-4,y:y(v)+3,'font-size':8.5,'text-anchor':'end',fill:'#555'},g,String(v));
    
    
  });
  scatterXTicks.forEach((v,j)=>{
    const t=mk('line',{x1:x(v),x2:x(v),y1:p.b,y2:p.b+2.5,stroke:'#555','stroke-width':.9},g);
    
    
    const l=mk('text',{x:x(v),y:654,'font-size':8.5,'text-anchor':'middle',fill:'#555'},g,scatterXTickLabels[j]);
    
    
  });
  const xt=mk('text',{x:p.xc,y:666,'font-size':10,'text-anchor':'middle',fill:'#222'},g,'Risk score');
  
  
  const yt=mk('text',{x:p.yl+3,y:p.yc,'font-size':9.9,'text-anchor':'middle',fill:'#222',transform:'rotate(-90 '+(p.yl+3)+' '+p.yc+')'},g,geneTitles[idx]);
  
  
});
</script>
</body>
</html>
